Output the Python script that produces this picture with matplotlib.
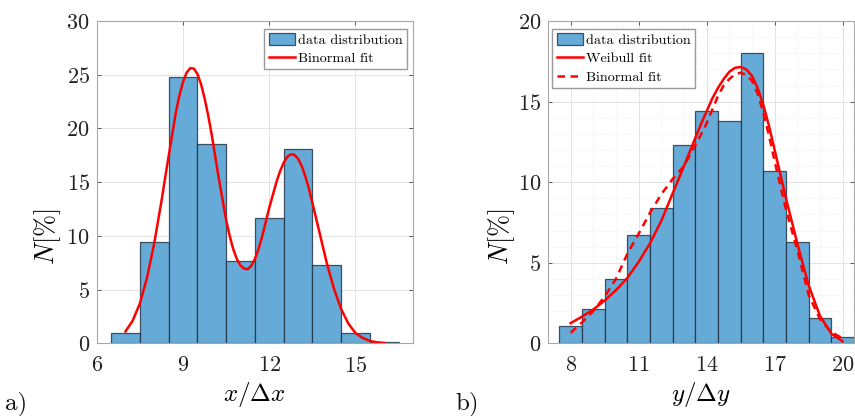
import numpy as np
import matplotlib
matplotlib.use('Agg')
import matplotlib.pyplot as plt
from matplotlib.ticker import MultipleLocator

plt.rcParams['font.family'] = ['cmr10', 'DejaVu Serif']
plt.rcParams['mathtext.fontset'] = 'cm'
plt.rcParams['axes.formatter.use_mathtext'] = True

# a) histogram of x/dx
x_centers = [7, 8, 9, 10, 11, 12, 13, 14, 15, 16]
x_counts = [1.0, 9.4, 24.8, 18.6, 7.7, 11.7, 18.1, 7.3, 1.0, 0.1]

# binormal fit
x_fit = [7.0, 7.25, 7.5, 7.75, 8.0, 8.25, 8.5, 8.75, 8.875, 9.0, 9.125, 9.25,
         9.375, 9.5, 9.625, 9.75, 9.875, 10.0, 10.25, 10.5, 10.625, 10.75,
         10.875, 11.0, 11.125, 11.25, 11.375, 11.5, 11.625, 11.75, 12.0,
         12.25, 12.375, 12.5, 12.625, 12.75, 12.875, 13.0, 13.125, 13.25,
         13.375, 13.5, 13.75, 14.0, 14.25, 14.5, 14.75, 15.0, 15.25, 15.5,
         15.75, 16.0]
x_binormal = [1.1, 2.1, 3.7, 6.1, 9.3, 13.2, 17.4, 21.45, 23.05, 24.32, 25.19, 25.61,
              25.58, 25.09, 24.16, 22.85, 21.25, 19.43, 15.3, 11.5, 10.0, 8.75,
              7.85, 7.25, 6.95, 6.9, 7.2, 7.85, 8.75, 9.9, 12.6,
              15.0, 16.0, 16.8, 17.35, 17.6, 17.55, 17.2, 16.55, 15.6,
              14.45, 13.1, 10.3, 7.5, 5.1, 3.2, 1.85, 0.95, 0.5, 0.22,
              0.09, 0.03]

# b) histogram of y/dy
y_centers = [8, 9, 10, 11, 12, 13, 14, 15, 16, 17, 18, 19, 20]
y_counts = [1.1, 2.1, 4.0, 6.7, 8.4, 12.3, 14.4, 13.8, 18.0, 10.7, 6.3, 1.6, 0.4]

y_fit = [8.0, 8.5, 9.0, 9.5, 10.0, 10.5, 11.0, 11.5, 12.0, 12.5, 13.0, 13.5,
         13.75, 14.0, 14.25, 14.5, 14.75, 15.0, 15.25, 15.5, 15.75, 16.0,
         16.25, 16.5, 16.75, 17.0, 17.25, 17.5, 18.0, 18.5, 19.0, 19.5, 20.0]
y_weibull = [1.25, 1.65, 2.1, 2.65, 3.3, 4.05, 5.05, 6.2, 7.6, 9.3, 11.0, 12.75,
             13.6, 14.4, 15.2, 15.85, 16.4, 16.85, 17.1, 17.15, 17.0, 16.6,
             15.85, 14.8, 13.5, 12.0, 10.5, 9.0, 6.2, 3.6, 1.7, 0.6, 0.12]
y_binormal = [0.65, 1.3, 2.0, 2.9, 4.0, 5.55, 6.8, 8.1, 9.25, 10.2, 11.0, 12.3,
              12.95, 13.65, 14.5, 15.35, 16.0, 16.4, 16.7, 16.8, 16.65, 16.3,
              15.5, 14.3, 12.9, 11.3, 9.8, 8.3, 5.8, 3.0, 1.5, 0.7, 0.3]

bar_face = '#66aad7'
bar_edge = (0.12, 0.18, 0.24, 0.8)
spine_col = '#a8a8a8'

fig = plt.figure(figsize=(8.55, 4.16), dpi=100)
ax1 = fig.add_axes([0.1131, 0.1748, 0.3699, 0.7745])
ax2 = fig.add_axes([0.6409, 0.1748, 0.3579, 0.7745])


def style(ax):
    for s in ax.spines.values():
        s.set_color(spine_col)
        s.set_linewidth(0.8)
    ax.tick_params(which='major', direction='in', length=3, width=0.6,
                   color='#404040', top=True, right=True,
                   labelsize=16, labelcolor='#222222')
    ax.tick_params(axis='x', pad=9)
    ax.tick_params(axis='y', pad=5)
    ax.set_axisbelow(True)
    ax.grid(True, which='major', color='#e3e3e3', linewidth=0.7)


leg_kw = dict(borderaxespad=0, fontsize=10.2, fancybox=False, framealpha=1,
              edgecolor='#9a9a9a', handlelength=1.85, handleheight=0.9,
              handletextpad=0.2, labelspacing=0.35, borderpad=0.3)

# left panel
b1 = ax1.bar(x_centers, x_counts, width=1.0, color=bar_face, edgecolor=bar_edge,
             linewidth=0.9, label='data distribution')
l1, = ax1.plot(x_fit, x_binormal, color='red', linewidth=1.8, label='Binormal fit')
ax1.set_xlim(6, 17)
ax1.set_ylim(0, 30)
ax1.set_xticks([6, 9, 12, 15])
ax1.set_yticks([0, 5, 10, 15, 20, 25, 30])
style(ax1)
ax1.set_xlabel(r'$x/\Delta x$', fontsize=18)
ax1.set_ylabel(r'$N[\%]$', fontsize=19)
ax1.xaxis.set_label_coords(0.5, -0.113)
ax1.yaxis.set_label_coords(-0.108, 0.33)
ax1.legend(handles=[b1, l1], loc='upper right', bbox_to_anchor=(0.98, 0.977),
           **leg_kw)

# right panel
b2 = ax2.bar(y_centers, y_counts, width=1.0, color=bar_face, edgecolor=bar_edge,
             linewidth=0.9, label='data distribution')
l2, = ax2.plot(y_fit, y_weibull, color='red', linewidth=1.8, label='Weibull fit')
l3, = ax2.plot(y_fit, y_binormal, color='red', linewidth=1.8,
               linestyle=(0, (3, 2.2)), label='Binormal fit')
ax2.set_xlim(7, 20.5)
ax2.set_ylim(0, 20)
ax2.set_xticks([8, 11, 14, 17, 20])
ax2.set_yticks([0, 5, 10, 15, 20])
ax2.xaxis.set_minor_locator(MultipleLocator(1))
ax2.yaxis.set_minor_locator(MultipleLocator(1))
style(ax2)
ax2.tick_params(which='minor', length=0)
ax2.grid(True, which='minor', color='#e6e6e6', linewidth=0.5, linestyle=':')
ax2.set_xlabel(r'$y/\Delta y$', fontsize=18)
ax2.set_ylabel(r'$N[\%]$', fontsize=19)
ax2.xaxis.set_label_coords(0.5, -0.113)
ax2.yaxis.set_label_coords(-0.102, 0.33)
ax2.legend(handles=[b2, l2, l3], loc='upper left',
           bbox_to_anchor=(0.014, 0.977), **leg_kw)

fig.text(0.006, 0.016, 'a)', fontsize=18, color='#111111')
fig.text(0.532, 0.016, 'b)', fontsize=18, color='#111111')

fig.savefig('out.png', dpi=100)
